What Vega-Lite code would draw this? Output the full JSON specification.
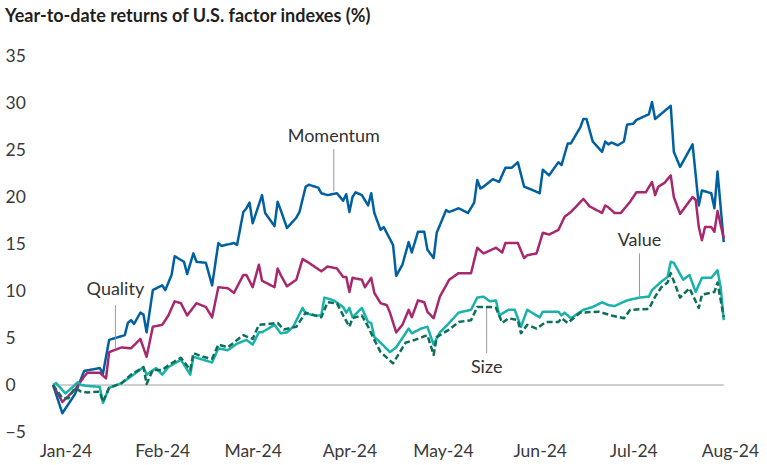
{
  "$schema": "https://vega.github.io/schema/vega-lite/v6.json",
  "width": 677,
  "height": 376,
  "autosize": "none",
  "padding": {"left": 53, "top": 56, "right": 37, "bottom": 33},
  "background": "white",
  "config": {"view": {"stroke": null}, "font": "Lato"},
  "title": {"text": "Year-to-date returns of U.S. factor indexes (%)", "anchor": "start", "frame": "bounds", "fontSize": 18, "font": "Lato", "fontWeight": "bold", "color": "#1f1f1f", "offset": 21},
  "datasets": {
    "series": [
      {"s":"Momentum","d":"2023-12-28","v":0},
      {"s":"Momentum","d":"2023-12-31","v":-3.0},
      {"s":"Momentum","d":"2024-01-04","v":-1.0},
      {"s":"Momentum","d":"2024-01-07","v":1.5},
      {"s":"Momentum","d":"2024-01-12","v":1.8},
      {"s":"Momentum","d":"2024-01-13","v":1.2},
      {"s":"Momentum","d":"2024-01-15","v":4.8},
      {"s":"Momentum","d":"2024-01-18","v":5.1},
      {"s":"Momentum","d":"2024-01-20","v":5.3},
      {"s":"Momentum","d":"2024-01-21","v":6.6},
      {"s":"Momentum","d":"2024-01-22","v":6.9},
      {"s":"Momentum","d":"2024-01-23","v":6.5},
      {"s":"Momentum","d":"2024-01-25","v":7.7},
      {"s":"Momentum","d":"2024-01-26","v":7.5},
      {"s":"Momentum","d":"2024-01-27","v":5.6},
      {"s":"Momentum","d":"2024-01-29","v":10.1},
      {"s":"Momentum","d":"2024-02-01","v":10.6},
      {"s":"Momentum","d":"2024-02-02","v":10.1},
      {"s":"Momentum","d":"2024-02-04","v":11.7},
      {"s":"Momentum","d":"2024-02-05","v":13.7},
      {"s":"Momentum","d":"2024-02-08","v":13.1},
      {"s":"Momentum","d":"2024-02-09","v":11.8},
      {"s":"Momentum","d":"2024-02-11","v":14.0},
      {"s":"Momentum","d":"2024-02-12","v":13.1},
      {"s":"Momentum","d":"2024-02-15","v":13.0},
      {"s":"Momentum","d":"2024-02-17","v":10.6},
      {"s":"Momentum","d":"2024-02-19","v":15.1},
      {"s":"Momentum","d":"2024-02-20","v":14.8},
      {"s":"Momentum","d":"2024-02-24","v":15.1},
      {"s":"Momentum","d":"2024-02-25","v":14.9},
      {"s":"Momentum","d":"2024-02-27","v":18.4},
      {"s":"Momentum","d":"2024-02-28","v":18.8},
      {"s":"Momentum","d":"2024-02-29","v":19.4},
      {"s":"Momentum","d":"2024-03-01","v":17.2},
      {"s":"Momentum","d":"2024-03-04","v":20.2},
      {"s":"Momentum","d":"2024-03-05","v":18.3},
      {"s":"Momentum","d":"2024-03-08","v":16.9},
      {"s":"Momentum","d":"2024-03-09","v":19.5},
      {"s":"Momentum","d":"2024-03-10","v":18.6},
      {"s":"Momentum","d":"2024-03-12","v":16.7},
      {"s":"Momentum","d":"2024-03-15","v":17.8},
      {"s":"Momentum","d":"2024-03-16","v":18.4},
      {"s":"Momentum","d":"2024-03-18","v":21.1},
      {"s":"Momentum","d":"2024-03-19","v":21.3},
      {"s":"Momentum","d":"2024-03-22","v":21.0},
      {"s":"Momentum","d":"2024-03-23","v":20.4},
      {"s":"Momentum","d":"2024-03-25","v":20.2},
      {"s":"Momentum","d":"2024-03-28","v":20.4},
      {"s":"Momentum","d":"2024-03-30","v":19.6},
      {"s":"Momentum","d":"2024-03-31","v":20.3},
      {"s":"Momentum","d":"2024-04-01","v":18.4},
      {"s":"Momentum","d":"2024-04-02","v":20.0},
      {"s":"Momentum","d":"2024-04-03","v":20.5},
      {"s":"Momentum","d":"2024-04-05","v":20.2},
      {"s":"Momentum","d":"2024-04-07","v":19.1},
      {"s":"Momentum","d":"2024-04-08","v":20.4},
      {"s":"Momentum","d":"2024-04-09","v":18.3},
      {"s":"Momentum","d":"2024-04-11","v":16.5},
      {"s":"Momentum","d":"2024-04-12","v":16.8},
      {"s":"Momentum","d":"2024-04-15","v":14.9},
      {"s":"Momentum","d":"2024-04-16","v":11.6},
      {"s":"Momentum","d":"2024-04-18","v":12.8},
      {"s":"Momentum","d":"2024-04-20","v":15.2},
      {"s":"Momentum","d":"2024-04-21","v":14.1},
      {"s":"Momentum","d":"2024-04-23","v":16.3},
      {"s":"Momentum","d":"2024-04-25","v":16.3},
      {"s":"Momentum","d":"2024-04-26","v":14.4},
      {"s":"Momentum","d":"2024-04-28","v":13.5},
      {"s":"Momentum","d":"2024-04-29","v":16.2},
      {"s":"Momentum","d":"2024-05-02","v":18.6},
      {"s":"Momentum","d":"2024-05-03","v":18.4},
      {"s":"Momentum","d":"2024-05-06","v":18.8},
      {"s":"Momentum","d":"2024-05-09","v":18.3},
      {"s":"Momentum","d":"2024-05-11","v":19.4},
      {"s":"Momentum","d":"2024-05-12","v":21.8},
      {"s":"Momentum","d":"2024-05-13","v":20.9},
      {"s":"Momentum","d":"2024-05-14","v":21.1},
      {"s":"Momentum","d":"2024-05-17","v":21.9},
      {"s":"Momentum","d":"2024-05-19","v":21.6},
      {"s":"Momentum","d":"2024-05-21","v":23.1},
      {"s":"Momentum","d":"2024-05-23","v":23.1},
      {"s":"Momentum","d":"2024-05-25","v":23.7},
      {"s":"Momentum","d":"2024-05-27","v":21.1},
      {"s":"Momentum","d":"2024-05-30","v":20.7},
      {"s":"Momentum","d":"2024-06-01","v":20.4},
      {"s":"Momentum","d":"2024-06-02","v":22.9},
      {"s":"Momentum","d":"2024-06-04","v":22.3},
      {"s":"Momentum","d":"2024-06-07","v":23.7},
      {"s":"Momentum","d":"2024-06-08","v":23.4},
      {"s":"Momentum","d":"2024-06-10","v":25.7},
      {"s":"Momentum","d":"2024-06-11","v":25.7},
      {"s":"Momentum","d":"2024-06-14","v":27.4},
      {"s":"Momentum","d":"2024-06-15","v":28.3},
      {"s":"Momentum","d":"2024-06-16","v":28.3},
      {"s":"Momentum","d":"2024-06-18","v":25.9},
      {"s":"Momentum","d":"2024-06-21","v":24.8},
      {"s":"Momentum","d":"2024-06-22","v":25.9},
      {"s":"Momentum","d":"2024-06-23","v":25.6},
      {"s":"Momentum","d":"2024-06-24","v":25.8},
      {"s":"Momentum","d":"2024-06-26","v":25.5},
      {"s":"Momentum","d":"2024-06-28","v":25.9},
      {"s":"Momentum","d":"2024-06-29","v":27.7},
      {"s":"Momentum","d":"2024-07-01","v":27.8},
      {"s":"Momentum","d":"2024-07-02","v":28.2},
      {"s":"Momentum","d":"2024-07-06","v":28.8},
      {"s":"Momentum","d":"2024-07-07","v":30.1},
      {"s":"Momentum","d":"2024-07-08","v":28.3},
      {"s":"Momentum","d":"2024-07-13","v":29.7},
      {"s":"Momentum","d":"2024-07-14","v":24.8},
      {"s":"Momentum","d":"2024-07-16","v":23.2},
      {"s":"Momentum","d":"2024-07-20","v":25.6},
      {"s":"Momentum","d":"2024-07-22","v":19.1},
      {"s":"Momentum","d":"2024-07-23","v":20.7},
      {"s":"Momentum","d":"2024-07-26","v":20.4},
      {"s":"Momentum","d":"2024-07-27","v":18.8},
      {"s":"Momentum","d":"2024-07-28","v":22.7},
      {"s":"Momentum","d":"2024-07-30","v":15.2},

      {"s":"Quality","d":"2023-12-28","v":0},
      {"s":"Quality","d":"2023-12-31","v":-1.8},
      {"s":"Quality","d":"2024-01-04","v":-0.5},
      {"s":"Quality","d":"2024-01-07","v":0.9},
      {"s":"Quality","d":"2024-01-08","v":1.3},
      {"s":"Quality","d":"2024-01-12","v":1.3},
      {"s":"Quality","d":"2024-01-14","v":0.7},
      {"s":"Quality","d":"2024-01-15","v":3.5},
      {"s":"Quality","d":"2024-01-19","v":4.0},
      {"s":"Quality","d":"2024-01-22","v":3.9},
      {"s":"Quality","d":"2024-01-25","v":4.9},
      {"s":"Quality","d":"2024-01-27","v":3.0},
      {"s":"Quality","d":"2024-01-29","v":6.2},
      {"s":"Quality","d":"2024-02-01","v":6.4},
      {"s":"Quality","d":"2024-02-03","v":7.4},
      {"s":"Quality","d":"2024-02-05","v":8.9},
      {"s":"Quality","d":"2024-02-07","v":8.7},
      {"s":"Quality","d":"2024-02-09","v":7.4},
      {"s":"Quality","d":"2024-02-12","v":8.7},
      {"s":"Quality","d":"2024-02-15","v":8.3},
      {"s":"Quality","d":"2024-02-17","v":7.2},
      {"s":"Quality","d":"2024-02-19","v":10.4},
      {"s":"Quality","d":"2024-02-22","v":10.3},
      {"s":"Quality","d":"2024-02-24","v":9.8},
      {"s":"Quality","d":"2024-02-27","v":11.7},
      {"s":"Quality","d":"2024-02-28","v":11.7},
      {"s":"Quality","d":"2024-03-01","v":10.4},
      {"s":"Quality","d":"2024-03-03","v":12.8},
      {"s":"Quality","d":"2024-03-04","v":11.1},
      {"s":"Quality","d":"2024-03-08","v":10.4},
      {"s":"Quality","d":"2024-03-09","v":12.4},
      {"s":"Quality","d":"2024-03-10","v":11.7},
      {"s":"Quality","d":"2024-03-12","v":10.5},
      {"s":"Quality","d":"2024-03-15","v":11.2},
      {"s":"Quality","d":"2024-03-17","v":13.4},
      {"s":"Quality","d":"2024-03-19","v":13.0},
      {"s":"Quality","d":"2024-03-23","v":12.1},
      {"s":"Quality","d":"2024-03-25","v":12.6},
      {"s":"Quality","d":"2024-03-28","v":12.4},
      {"s":"Quality","d":"2024-03-30","v":11.5},
      {"s":"Quality","d":"2024-03-31","v":11.5},
      {"s":"Quality","d":"2024-04-01","v":9.9},
      {"s":"Quality","d":"2024-04-02","v":11.4},
      {"s":"Quality","d":"2024-04-05","v":11.2},
      {"s":"Quality","d":"2024-04-06","v":10.4},
      {"s":"Quality","d":"2024-04-08","v":11.4},
      {"s":"Quality","d":"2024-04-09","v":9.8},
      {"s":"Quality","d":"2024-04-11","v":8.7},
      {"s":"Quality","d":"2024-04-13","v":8.5},
      {"s":"Quality","d":"2024-04-14","v":7.7},
      {"s":"Quality","d":"2024-04-16","v":5.6},
      {"s":"Quality","d":"2024-04-18","v":6.4},
      {"s":"Quality","d":"2024-04-20","v":8.0},
      {"s":"Quality","d":"2024-04-21","v":7.2},
      {"s":"Quality","d":"2024-04-23","v":9.0},
      {"s":"Quality","d":"2024-04-25","v":8.8},
      {"s":"Quality","d":"2024-04-26","v":7.8},
      {"s":"Quality","d":"2024-04-28","v":7.1},
      {"s":"Quality","d":"2024-04-30","v":9.4},
      {"s":"Quality","d":"2024-05-03","v":11.2},
      {"s":"Quality","d":"2024-05-06","v":11.9},
      {"s":"Quality","d":"2024-05-10","v":11.9},
      {"s":"Quality","d":"2024-05-12","v":14.6},
      {"s":"Quality","d":"2024-05-14","v":14.0},
      {"s":"Quality","d":"2024-05-16","v":14.3},
      {"s":"Quality","d":"2024-05-18","v":14.6},
      {"s":"Quality","d":"2024-05-20","v":14.1},
      {"s":"Quality","d":"2024-05-21","v":15.1},
      {"s":"Quality","d":"2024-05-25","v":15.1},
      {"s":"Quality","d":"2024-05-27","v":13.5},
      {"s":"Quality","d":"2024-05-28","v":13.8},
      {"s":"Quality","d":"2024-05-31","v":14.0},
      {"s":"Quality","d":"2024-06-02","v":16.2},
      {"s":"Quality","d":"2024-06-04","v":16.0},
      {"s":"Quality","d":"2024-06-07","v":16.5},
      {"s":"Quality","d":"2024-06-09","v":17.9},
      {"s":"Quality","d":"2024-06-11","v":18.4},
      {"s":"Quality","d":"2024-06-15","v":19.8},
      {"s":"Quality","d":"2024-06-17","v":19.0},
      {"s":"Quality","d":"2024-06-21","v":18.3},
      {"s":"Quality","d":"2024-06-22","v":19.1},
      {"s":"Quality","d":"2024-06-23","v":18.9},
      {"s":"Quality","d":"2024-06-25","v":18.3},
      {"s":"Quality","d":"2024-06-27","v":18.3},
      {"s":"Quality","d":"2024-06-30","v":19.5},
      {"s":"Quality","d":"2024-07-02","v":20.5},
      {"s":"Quality","d":"2024-07-05","v":20.5},
      {"s":"Quality","d":"2024-07-07","v":21.6},
      {"s":"Quality","d":"2024-07-08","v":20.2},
      {"s":"Quality","d":"2024-07-09","v":21.1},
      {"s":"Quality","d":"2024-07-11","v":21.5},
      {"s":"Quality","d":"2024-07-13","v":22.3},
      {"s":"Quality","d":"2024-07-14","v":20.0},
      {"s":"Quality","d":"2024-07-16","v":18.2},
      {"s":"Quality","d":"2024-07-20","v":20.0},
      {"s":"Quality","d":"2024-07-21","v":19.7},
      {"s":"Quality","d":"2024-07-22","v":16.8},
      {"s":"Quality","d":"2024-07-23","v":15.4},
      {"s":"Quality","d":"2024-07-24","v":16.8},
      {"s":"Quality","d":"2024-07-26","v":16.8},
      {"s":"Quality","d":"2024-07-27","v":16.3},
      {"s":"Quality","d":"2024-07-28","v":18.5},
      {"s":"Quality","d":"2024-07-30","v":15.6},

      {"s":"Value","d":"2023-12-28","v":0},
      {"s":"Value","d":"2023-12-29","v":0.2},
      {"s":"Value","d":"2024-01-01","v":-0.9},
      {"s":"Value","d":"2024-01-05","v":0.3},
      {"s":"Value","d":"2024-01-06","v":0.0},
      {"s":"Value","d":"2024-01-08","v":-0.1},
      {"s":"Value","d":"2024-01-12","v":-0.2},
      {"s":"Value","d":"2024-01-13","v":-1.9},
      {"s":"Value","d":"2024-01-15","v":-0.3},
      {"s":"Value","d":"2024-01-19","v":0.2},
      {"s":"Value","d":"2024-01-22","v":0.9},
      {"s":"Value","d":"2024-01-26","v":1.9},
      {"s":"Value","d":"2024-01-27","v":1.1},
      {"s":"Value","d":"2024-01-30","v":1.8},
      {"s":"Value","d":"2024-02-01","v":1.1},
      {"s":"Value","d":"2024-02-03","v":1.9},
      {"s":"Value","d":"2024-02-07","v":2.7},
      {"s":"Value","d":"2024-02-10","v":1.1},
      {"s":"Value","d":"2024-02-11","v":3.0},
      {"s":"Value","d":"2024-02-14","v":2.7},
      {"s":"Value","d":"2024-02-17","v":2.4},
      {"s":"Value","d":"2024-02-19","v":3.9},
      {"s":"Value","d":"2024-02-22","v":3.7},
      {"s":"Value","d":"2024-02-25","v":4.4},
      {"s":"Value","d":"2024-02-28","v":4.8},
      {"s":"Value","d":"2024-03-01","v":4.3},
      {"s":"Value","d":"2024-03-03","v":5.6},
      {"s":"Value","d":"2024-03-04","v":5.6},
      {"s":"Value","d":"2024-03-08","v":6.4},
      {"s":"Value","d":"2024-03-10","v":5.5},
      {"s":"Value","d":"2024-03-12","v":5.6},
      {"s":"Value","d":"2024-03-14","v":6.2},
      {"s":"Value","d":"2024-03-17","v":8.2},
      {"s":"Value","d":"2024-03-18","v":7.6},
      {"s":"Value","d":"2024-03-21","v":7.4},
      {"s":"Value","d":"2024-03-23","v":7.4},
      {"s":"Value","d":"2024-03-24","v":9.3},
      {"s":"Value","d":"2024-03-27","v":9.0},
      {"s":"Value","d":"2024-03-30","v":8.3},
      {"s":"Value","d":"2024-03-31","v":7.7},
      {"s":"Value","d":"2024-04-01","v":8.2},
      {"s":"Value","d":"2024-04-02","v":7.2},
      {"s":"Value","d":"2024-04-05","v":8.2},
      {"s":"Value","d":"2024-04-07","v":6.7},
      {"s":"Value","d":"2024-04-08","v":6.6},
      {"s":"Value","d":"2024-04-09","v":5.1},
      {"s":"Value","d":"2024-04-11","v":4.5},
      {"s":"Value","d":"2024-04-14","v":3.5},
      {"s":"Value","d":"2024-04-16","v":4.0},
      {"s":"Value","d":"2024-04-20","v":6.0},
      {"s":"Value","d":"2024-04-21","v":5.5},
      {"s":"Value","d":"2024-04-24","v":6.0},
      {"s":"Value","d":"2024-04-26","v":6.2},
      {"s":"Value","d":"2024-04-28","v":4.3},
      {"s":"Value","d":"2024-04-30","v":5.6},
      {"s":"Value","d":"2024-05-03","v":6.6},
      {"s":"Value","d":"2024-05-06","v":7.7},
      {"s":"Value","d":"2024-05-10","v":8.0},
      {"s":"Value","d":"2024-05-12","v":9.3},
      {"s":"Value","d":"2024-05-14","v":9.4},
      {"s":"Value","d":"2024-05-16","v":8.9},
      {"s":"Value","d":"2024-05-18","v":9.0},
      {"s":"Value","d":"2024-05-19","v":7.4},
      {"s":"Value","d":"2024-05-22","v":8.0},
      {"s":"Value","d":"2024-05-24","v":8.0},
      {"s":"Value","d":"2024-05-26","v":6.2},
      {"s":"Value","d":"2024-05-28","v":8.0},
      {"s":"Value","d":"2024-06-01","v":7.2},
      {"s":"Value","d":"2024-06-02","v":7.8},
      {"s":"Value","d":"2024-06-07","v":7.8},
      {"s":"Value","d":"2024-06-08","v":7.4},
      {"s":"Value","d":"2024-06-09","v":7.7},
      {"s":"Value","d":"2024-06-11","v":7.1},
      {"s":"Value","d":"2024-06-15","v":8.0},
      {"s":"Value","d":"2024-06-18","v":8.3},
      {"s":"Value","d":"2024-06-21","v":8.8},
      {"s":"Value","d":"2024-06-23","v":8.5},
      {"s":"Value","d":"2024-06-25","v":8.4},
      {"s":"Value","d":"2024-06-29","v":9.0},
      {"s":"Value","d":"2024-07-03","v":9.3},
      {"s":"Value","d":"2024-07-06","v":9.4},
      {"s":"Value","d":"2024-07-07","v":10.1},
      {"s":"Value","d":"2024-07-10","v":11.0},
      {"s":"Value","d":"2024-07-12","v":11.5},
      {"s":"Value","d":"2024-07-13","v":13.1},
      {"s":"Value","d":"2024-07-14","v":13.0},
      {"s":"Value","d":"2024-07-17","v":11.2},
      {"s":"Value","d":"2024-07-19","v":11.7},
      {"s":"Value","d":"2024-07-21","v":9.9},
      {"s":"Value","d":"2024-07-23","v":11.4},
      {"s":"Value","d":"2024-07-26","v":11.4},
      {"s":"Value","d":"2024-07-28","v":12.2},
      {"s":"Value","d":"2024-07-29","v":10.4},
      {"s":"Value","d":"2024-07-30","v":6.9},

      {"s":"Size","d":"2023-12-28","v":0},
      {"s":"Size","d":"2023-12-31","v":-1.4},
      {"s":"Size","d":"2024-01-02","v":-1.4},
      {"s":"Size","d":"2024-01-04","v":-0.3},
      {"s":"Size","d":"2024-01-06","v":-0.7},
      {"s":"Size","d":"2024-01-08","v":-0.8},
      {"s":"Size","d":"2024-01-12","v":-0.7},
      {"s":"Size","d":"2024-01-13","v":-1.8},
      {"s":"Size","d":"2024-01-15","v":-0.3},
      {"s":"Size","d":"2024-01-19","v":0.2},
      {"s":"Size","d":"2024-01-22","v":1.1},
      {"s":"Size","d":"2024-01-26","v":1.9},
      {"s":"Size","d":"2024-01-27","v":0.1},
      {"s":"Size","d":"2024-01-29","v":1.6},
      {"s":"Size","d":"2024-02-01","v":1.6},
      {"s":"Size","d":"2024-02-03","v":2.1},
      {"s":"Size","d":"2024-02-07","v":2.9},
      {"s":"Size","d":"2024-02-10","v":1.6},
      {"s":"Size","d":"2024-02-11","v":3.4},
      {"s":"Size","d":"2024-02-14","v":3.0},
      {"s":"Size","d":"2024-02-17","v":2.8},
      {"s":"Size","d":"2024-02-19","v":4.3},
      {"s":"Size","d":"2024-02-22","v":4.0},
      {"s":"Size","d":"2024-02-27","v":5.3},
      {"s":"Size","d":"2024-03-01","v":4.9},
      {"s":"Size","d":"2024-03-03","v":6.4},
      {"s":"Size","d":"2024-03-09","v":6.6},
      {"s":"Size","d":"2024-03-11","v":5.9},
      {"s":"Size","d":"2024-03-15","v":6.2},
      {"s":"Size","d":"2024-03-18","v":7.7},
      {"s":"Size","d":"2024-03-23","v":7.2},
      {"s":"Size","d":"2024-03-25","v":8.8},
      {"s":"Size","d":"2024-03-28","v":8.7},
      {"s":"Size","d":"2024-03-30","v":7.4},
      {"s":"Size","d":"2024-04-01","v":6.2},
      {"s":"Size","d":"2024-04-02","v":7.1},
      {"s":"Size","d":"2024-04-05","v":7.4},
      {"s":"Size","d":"2024-04-07","v":6.2},
      {"s":"Size","d":"2024-04-09","v":4.8},
      {"s":"Size","d":"2024-04-11","v":3.5},
      {"s":"Size","d":"2024-04-15","v":2.3},
      {"s":"Size","d":"2024-04-19","v":4.5},
      {"s":"Size","d":"2024-04-22","v":4.8},
      {"s":"Size","d":"2024-04-26","v":5.3},
      {"s":"Size","d":"2024-04-28","v":3.2},
      {"s":"Size","d":"2024-04-29","v":5.1},
      {"s":"Size","d":"2024-05-03","v":5.9},
      {"s":"Size","d":"2024-05-06","v":6.7},
      {"s":"Size","d":"2024-05-10","v":6.9},
      {"s":"Size","d":"2024-05-12","v":8.3},
      {"s":"Size","d":"2024-05-16","v":8.3},
      {"s":"Size","d":"2024-05-18","v":8.2},
      {"s":"Size","d":"2024-05-20","v":6.6},
      {"s":"Size","d":"2024-05-22","v":7.1},
      {"s":"Size","d":"2024-05-25","v":6.9},
      {"s":"Size","d":"2024-05-26","v":5.5},
      {"s":"Size","d":"2024-05-28","v":6.4},
      {"s":"Size","d":"2024-05-31","v":6.0},
      {"s":"Size","d":"2024-06-03","v":6.7},
      {"s":"Size","d":"2024-06-07","v":6.7},
      {"s":"Size","d":"2024-06-08","v":7.1},
      {"s":"Size","d":"2024-06-10","v":6.6},
      {"s":"Size","d":"2024-06-14","v":7.7},
      {"s":"Size","d":"2024-06-20","v":7.8},
      {"s":"Size","d":"2024-06-24","v":7.4},
      {"s":"Size","d":"2024-06-28","v":7.1},
      {"s":"Size","d":"2024-06-30","v":8.0},
      {"s":"Size","d":"2024-07-06","v":8.1},
      {"s":"Size","d":"2024-07-08","v":9.4},
      {"s":"Size","d":"2024-07-10","v":10.4},
      {"s":"Size","d":"2024-07-12","v":10.9},
      {"s":"Size","d":"2024-07-13","v":11.9},
      {"s":"Size","d":"2024-07-16","v":9.3},
      {"s":"Size","d":"2024-07-19","v":10.3},
      {"s":"Size","d":"2024-07-22","v":8.2},
      {"s":"Size","d":"2024-07-23","v":9.6},
      {"s":"Size","d":"2024-07-27","v":9.9},
      {"s":"Size","d":"2024-07-28","v":10.9},
      {"s":"Size","d":"2024-07-30","v":7.2}
    ],
    "notes": [
      {"d":"2024-03-27","t":"Momentum","ty":25.9,"y1":25.1,"y2":20.6},
      {"d":"2024-01-17","t":"Quality","ty":9.6,"y1":8.5,"y2":3.8},
      {"d":"2024-07-03","t":"Value","ty":14.8,"y1":14.0,"y2":9.4},
      {"d":"2024-05-15","t":"Size","ty":1.3,"y1":8.2,"y2":3.4}
    ],
    "zero": [
      {"a":"2023-12-28","b":"2024-07-30","v":0}
    ]
  },
  "layer": [
    {
      "data": {"name": "zero"},
      "mark": {"type": "rule", "color": "#a0a0a0", "strokeWidth": 1},
      "encoding": {
        "x": {"field": "a", "type": "temporal"},
        "x2": {"field": "b"},
        "y": {"field": "v", "type": "quantitative"}
      }
    },
    {
      "data": {"name": "series"},
      "mark": {"type": "line", "strokeWidth": 2.5, "strokeJoin": "round"},
      "encoding": {
        "x": {
          "field": "d", "type": "temporal",
          "scale": {"type": "utc", "domain": [{"year": 2023, "month": 12, "date": 28, "utc": true}, {"year": 2024, "month": 8, "date": 1, "utc": true}]},
          "axis": {
            "title": null, "domain": false, "ticks": false, "tickSize": 0, "grid": false,
            "labelExpr": "utcFormat(datum.value, '%b-%y')",
            "values": [
              {"year": 2024, "month": 1, "date": 1, "utc": true},
              {"year": 2024, "month": 2, "date": 1, "utc": true},
              {"year": 2024, "month": 3, "date": 1, "utc": true},
              {"year": 2024, "month": 4, "date": 1, "utc": true},
              {"year": 2024, "month": 5, "date": 1, "utc": true},
              {"year": 2024, "month": 6, "date": 1, "utc": true},
              {"year": 2024, "month": 7, "date": 1, "utc": true},
              {"year": 2024, "month": 8, "date": 1, "utc": true}
            ],
            "labelFont": "Lato", "labelFontSize": 17.5, "labelColor": "#3a3a3a", "labelPadding": 10,
            "labelOverlap": false, "labelFlush": false
          }
        },
        "y": {
          "field": "v", "type": "quantitative",
          "scale": {"domain": [-5, 35], "nice": false, "zero": false},
          "axis": {
            "title": null, "domain": false, "ticks": false, "tickSize": 0, "grid": false,
            "values": [-5, 0, 5, 10, 15, 20, 25, 30, 35],
            "labelAlign": "left", "labelPadding": 48,
            "labelFont": "Lato", "labelFontSize": 17.5, "labelColor": "#3a3a3a",
            "labelOverlap": false, "labelFlush": false
          }
        },
        "color": {
          "field": "s", "type": "nominal", "legend": null,
          "scale": {"domain": ["Momentum", "Quality", "Value", "Size"], "range": ["#0060a0", "#a8286e", "#19b2ab", "#0b6f5a"]}
        },
        "strokeDash": {
          "field": "s", "type": "nominal", "legend": null,
          "scale": {"domain": ["Momentum", "Quality", "Value", "Size"], "range": [[1, 0], [1, 0], [1, 0], [6, 3]]}
        },
        "order": {"field": "d", "type": "temporal"}
      }
    },
    {
      "data": {"name": "notes"},
      "mark": {"type": "rule", "color": "#9a9a9a", "strokeWidth": 1},
      "encoding": {
        "x": {"field": "d", "type": "temporal"},
        "y": {"field": "y1", "type": "quantitative"},
        "y2": {"field": "y2"}
      }
    },
    {
      "data": {"name": "notes"},
      "mark": {"type": "text", "font": "Lato", "fontSize": 18, "color": "#333333", "align": "center", "baseline": "alphabetic"},
      "encoding": {
        "x": {"field": "d", "type": "temporal"},
        "y": {"field": "ty", "type": "quantitative"},
        "text": {"field": "t"}
      }
    }
  ]
}
